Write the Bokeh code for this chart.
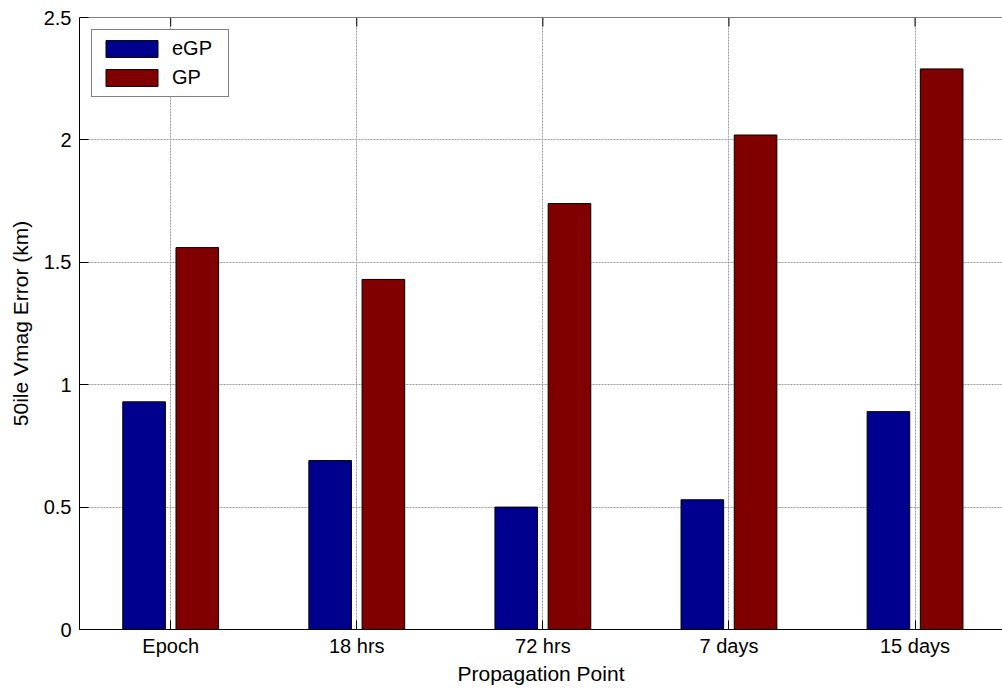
from bokeh.plotting import figure
from bokeh.models import (Range1d, FixedTicker, Legend, LegendItem,
                          ColumnDataSource, Span)
from bokeh.transform import dodge
from bokeh.embed import file_html
from bokeh.resources import INLINE

categories = ["Epoch", "18 hrs", "72 hrs", "7 days", "15 days"]
egp = [0.93, 0.69, 0.50, 0.53, 0.89]
gp = [1.56, 1.43, 1.74, 2.02, 2.29]
y_ticks = [0, 0.5, 1, 1.5, 2, 2.5]
y_tick_labels = ["0", "0.5", "1", "1.5", "2", "2.5"]
series_names = ["eGP", "GP"]

x_pos = list(range(1, len(categories) + 1))
src = ColumnDataSource(dict(x=x_pos, egp=egp, gp=gp))

FONT = "Liberation Sans"
Y0, Y1 = 0, 2.5
FRAME_H = 612

p = figure(frame_width=923, frame_height=FRAME_H,
           x_range=Range1d(0.51, 5.47), y_range=Range1d(Y0, Y1),
           output_backend="svg", toolbar_location=None,
           min_border_left=79, min_border_top=17, min_border_right=0,
           min_border_bottom=10, background_fill_color="white",
           border_fill_color="white", outline_line_color=None)

r1 = p.vbar(x=dodge('x', -0.143), top='egp', width=0.229, source=src,
            fill_color="#00008F", line_color="black", line_width=1)
r2 = p.vbar(x=dodge('x', 0.143), top='gp', width=0.229, source=src,
            fill_color="#800000", line_color="black", line_width=1)

# top box edge and inward tick marks on it (MATLAB box style)
p.add_layout(Span(location=Y1, dimension="width", line_color="black",
                  line_width=1))
tick_len = 9 * (Y1 - Y0) / FRAME_H
p.segment(x0='x', y0=Y1, x1='x', y1=Y1 - tick_len, source=src,
          line_color="black", line_width=1)

# axes
xa = p.xaxis[0]
xa.ticker = FixedTicker(ticks=x_pos)
xa.major_label_overrides = {x: c for x, c in zip(x_pos, categories)}
xa.axis_label = "Propagation Point"
ya = p.yaxis[0]
ya.ticker = FixedTicker(ticks=y_ticks)
ya.major_label_overrides = {t: l for t, l in zip(y_ticks, y_tick_labels)}
ya.axis_label = "50ile Vmag Error (km)"

for ax in (xa, ya):
    ax.major_tick_in = 9
    ax.major_tick_out = 0
    ax.minor_tick_line_color = None
    ax.axis_line_color = "black"
    ax.axis_line_width = 1
    ax.major_tick_line_color = "black"
    ax.major_label_text_font = FONT
    ax.major_label_text_font_size = "20px"
    ax.major_label_text_color = "black"
    ax.axis_label_text_font = FONT
    ax.axis_label_text_font_size = "21px"
    ax.axis_label_text_font_style = "normal"
    ax.axis_label_text_color = "black"

xa.major_label_standoff = 5
xa.axis_label_standoff = 2
ya.major_label_standoff = 8
ya.axis_label_standoff = 9

# grid
for g in (p.xgrid[0], p.ygrid[0]):
    g.grid_line_color = "#9a9a9a"
    g.grid_line_dash = "2 1"
    g.grid_line_width = 1
p.xgrid[0].ticker = FixedTicker(ticks=x_pos)
p.ygrid[0].ticker = FixedTicker(ticks=y_ticks)

legend = Legend(items=[LegendItem(label=series_names[0], renderers=[r1]),
                       LegendItem(label=series_names[1], renderers=[r2])],
                location="top_left", glyph_width=65, glyph_height=21,
                label_text_font=FONT, label_text_font_size="20px",
                label_text_color="black",
                label_height=21, label_width=49, spacing=6, padding=7,
                margin=12, label_standoff=8, border_line_color="black",
                border_line_width=1, background_fill_color="white",
                background_fill_alpha=1)
p.add_layout(legend)

open("out.html", "w").write(file_html(p, INLINE))
